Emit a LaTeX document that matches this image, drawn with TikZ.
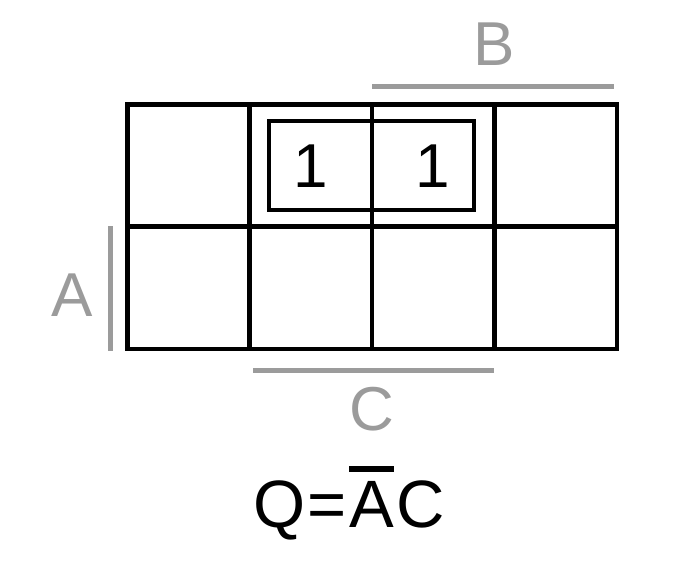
\documentclass[tikz,border=0pt]{standalone}
\usepackage{fontspec}
\setmainfont{Liberation Sans}
\definecolor{lblgray}{RGB}{155,155,155}

\tikzset{
  cellline/.style={draw=black, line width=4.5pt},
  groupbox/.style={draw=black, line width=4.5pt},
  varbar/.style={draw=lblgray, line width=5pt},
  varlabel/.style={text=lblgray, inner sep=0pt, font=\fontsize{62}{70}\selectfont},
  entry/.style={inner sep=0pt, font=\fontsize{62}{70}\selectfont},
  eqpart/.style={inner sep=0pt, anchor=base west, font=\fontsize{67}{74}\selectfont},
}

\begin{document}
\begin{tikzpicture}[x=1pt, y=-1pt]
  \useasboundingbox (0,0) rectangle (676,566);

  % Karnaugh-Tafel, 2 x 4 Felder
  \draw[cellline] (127.5,104.5) rectangle (617,349);
  \foreach \xx in {249.5, 372, 494.5}
    \draw[cellline] (\xx,104.5) -- (\xx,349);
  \draw[cellline] (127.5,226.5) -- (617,226.5);

  % Eintraege
  \node[entry] (eins1) at (311,166) {1};
  \node[entry] (eins2) at (433,166) {1};

  % Gruppe
  \draw[groupbox] (269,121) rectangle (474,210);

  % Variablen
  \draw[varbar] (372,86) -- (614,86);
  \node[varlabel] (varB) at (494.5,44) {B};
  \draw[varbar] (110,226) -- (110,351);
  \node[varlabel] (varA) at (72,295) {A};
  \draw[varbar] (253,370) -- (494,370);
  \node[varlabel] (varC) at (372,409) {C};

  % Ergebnis
  \node[eqpart] (eqQ) at (253,527) {Q};
  \node[eqpart] (eqGl) at ([xshift=2pt]eqQ.base east) {=};
  \node[eqpart] (eqA) at ([xshift=2pt]eqGl.base east) {A};
  \node[eqpart] (eqC) at ([xshift=2pt]eqA.base east) {C};
  \draw[line width=6pt] ([yshift=12pt]eqA.north west) -- ([yshift=12pt]eqA.north east);
\end{tikzpicture}
\end{document}
